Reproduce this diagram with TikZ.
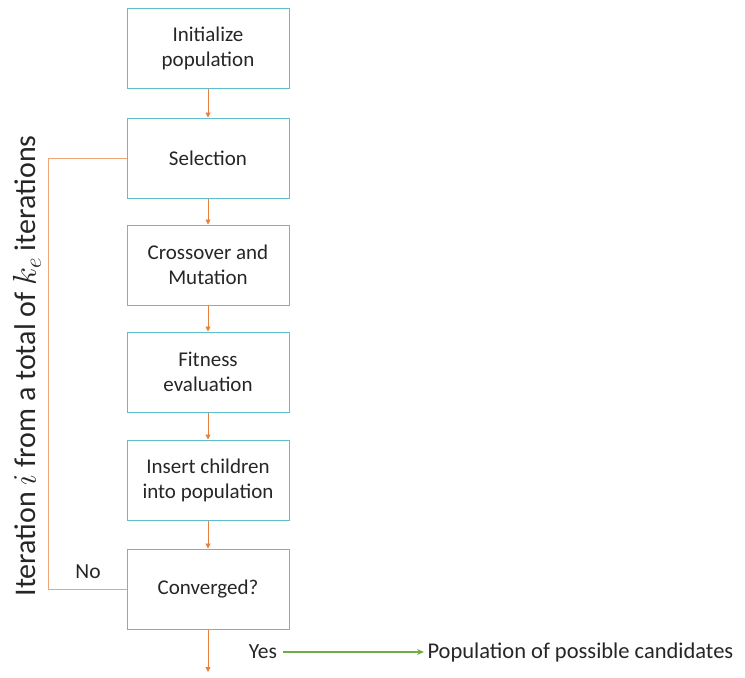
\documentclass[tikz,border=0pt]{standalone}
\usepackage{fix-cm}
\usepackage{fontspec}
\setmainfont{Carlito}
\usetikzlibrary{arrows.meta}
\definecolor{boxcyan}{RGB}{95,190,205}
\definecolor{flow}{RGB}{232,128,60}
\definecolor{outgreen}{RGB}{112,173,71}
\newcommand{\bigmath}[1]{{\fontsize{33}{38}\selectfont$#1$}}
\tikzset{
  stepbox/.style={draw=boxcyan, line width=1pt, minimum width=162pt, minimum height=80pt,
    align=center, font=\fontsize{21}{25}\selectfont, text=black!85},
  flowarrow/.style={draw=flow, line width=0.9pt, -{Triangle[length=5pt,width=5pt]}},
  loopline/.style={draw=flow!70, line width=0.9pt},
  lbl/.style={font=\fontsize{21.5}{25}\selectfont, text=black!85}
}
\begin{document}
\begin{tikzpicture}[x=1pt,y=-1pt]
\useasboundingbox (0,0) rectangle (745,678);
\node[stepbox] (init) at (208,48) {Initialize\\population};
\node[stepbox] (sel) at (208,158) {Selection};
\node[stepbox] (cross) at (208,265) {Crossover and\\Mutation};
\node[stepbox] (fit) at (208,372) {Fitness\\evaluation};
\node[stepbox] (ins) at (208,480) {Insert children\\into population};
\node[stepbox] (conv) at (208,589) {Converged?};
\coordinate (end) at (208,672);

\draw[flowarrow] (init) -- (sel);
\draw[flowarrow] (sel) -- (cross);
\draw[flowarrow] (cross) -- (fit);
\draw[flowarrow] (fit) -- (ins);
\draw[flowarrow] (ins) -- (conv);
\draw[flowarrow] (conv) -- (end);

% feedback loop on the left
\draw[loopline] (conv.west) -- (48,589) -- (48,158) -- (sel.west);
\node[lbl] (no) at (88,572) {No};
\node[lbl] (yes) at (263,652) {Yes};

% converged output
\coordinate (gstart) at (283,652);
\node[lbl, anchor=west, font=\fontsize{22.5}{26}\selectfont] (pop) at (424,652) {Population of possible candidates};
\draw[draw=outgreen, line width=1.8pt, -{Stealth[length=7pt,width=6pt]}] (gstart) -- (pop.west);

% iteration counter label
\node[rotate=90, font=\fontsize{30}{36}\selectfont, text=black!85] (iter) at (27,366)
  {Iteration \bigmath{i} from a total of \bigmath{k_e} iterations};
\end{tikzpicture}
\end{document}
